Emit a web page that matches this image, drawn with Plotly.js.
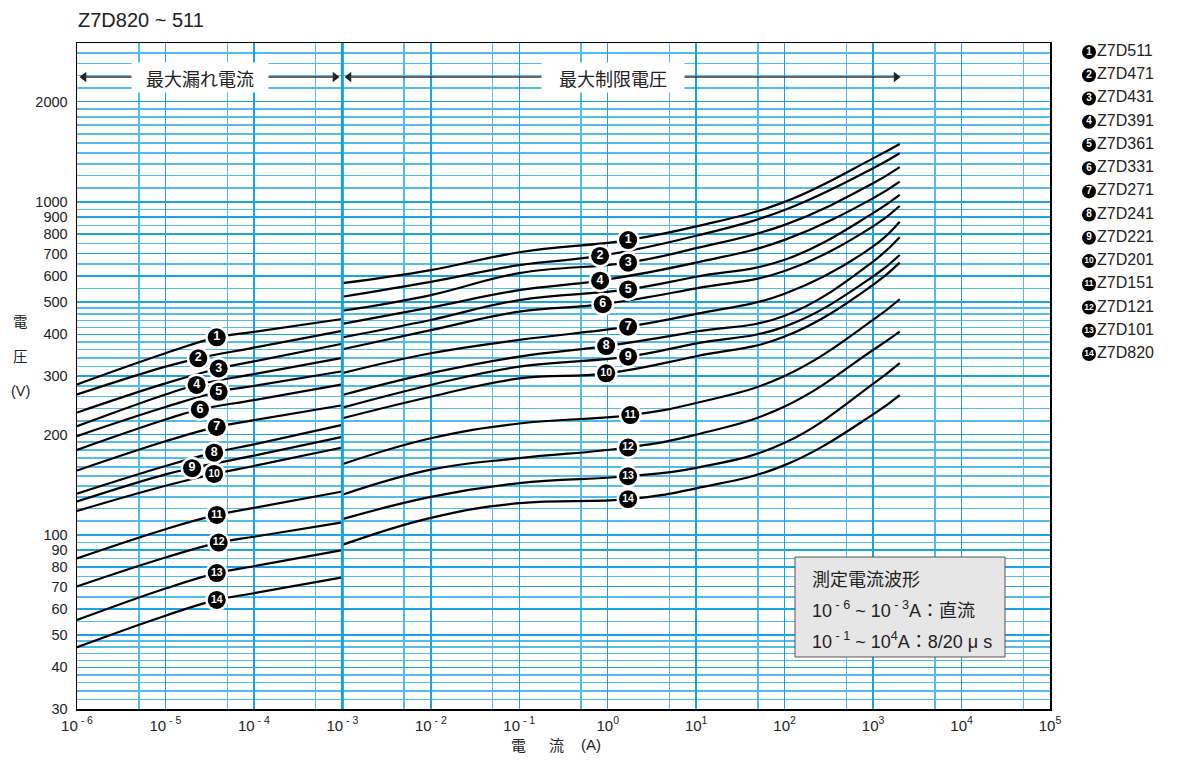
<!DOCTYPE html>
<html>
<head>
<meta charset="utf-8">
<script src="https://cdn.plot.ly/plotly-3.0.1.min.js"></script>
<style>html,body{margin:0;padding:0;background:#fff;}#chart{width:1182px;height:767px;}</style>
</head>
<body>
<div id="chart"></div>
<script>
// ---------- data ----------
const models = ['Z7D511','Z7D471','Z7D431','Z7D391','Z7D361','Z7D331','Z7D271','Z7D241','Z7D221','Z7D201','Z7D151','Z7D121','Z7D101','Z7D820'];
const labelNums = ['1','2','3','4','5','6','7','8','9','10','11','12','13','14'];

// leakage part (10^-6 .. 10^-3 A)
const leftI = [1e-6, 1e-5, 1e-4, 1e-3];
const leftV = [
  [283, 351, 407, 445],
  [264, 320, 365, 410],
  [233, 285, 332, 375],
  [212, 264, 304, 340],
  [198, 242, 280, 310],
  [180, 222, 254, 283],
  [156, 191, 221, 245],
  [133, 161, 187, 214],
  [126, 152, 173, 197],
  [118, 140.5, 161, 183],
  [85, 104, 120.5, 135],
  [70, 85.5, 98.7, 109],
  [55.5, 69, 80.5, 90],
  [46, 57.2, 66.8, 74.5]
];
const leftLabelI = [3.8e-5, 2.35e-5, 4.0e-5, 2.25e-5, 4.0e-5, 2.45e-5, 3.8e-5, 3.55e-5, 2.0e-5, 3.55e-5, 3.8e-5, 4.0e-5, 3.8e-5, 3.8e-5];
const leftLabelV = [392, 339, 316, 282, 269, 238, 211, 176.6, 158.6, 152.4, 114.8, 94.8, 76.8, 63.8];

// clamping part (10^-3 .. 2x10^3 A)
const rightI = [1e-3, 1e-2, 1e-1, 1e1, 1e2, 1e3, 2e3];
const rightV = [
  [570, 624, 706, 844, 1000, 1351, 1492],
  [519, 575, 646, 791, 946, 1262, 1400],
  [471, 525, 611, 726, 853, 1137, 1271],
  [430, 482, 543, 657, 769, 1025, 1150],
  [392, 442, 507, 596, 670, 925, 1049],
  [361, 412, 468, 550, 620, 844, 972],
  [306, 351, 385, 461, 530, 735, 872],
  [263, 306, 343, 408, 455, 662, 783],
  [241, 282, 320, 376, 422, 597, 693],
  [224, 260, 295, 344, 394, 563, 657],
  [163, 195, 216, 249, 300, 442, 510],
  [132, 157, 170, 200, 243, 359, 408],
  [111.5, 130, 143, 159, 189, 284, 328],
  [93.3, 112.5, 124.5, 138, 162, 230, 263]
];
const rightLabelI = [1.7, 0.82, 1.7, 0.82, 1.7, 0.88, 1.7, 0.96, 1.7, 0.96, 1.8, 1.7, 1.7, 1.7];
const rightLabelV = [768, 688, 657, 580, 546, 493, 422, 369, 343, 305.5, 229, 183, 150, 128];

// axes ticks / grid
const xTickVals = [1e-6,1e-5,1e-4,1e-3,1e-2,1e-1,1e0,1e1,1e2,1e3,1e4,1e5];
const xTickText = ['10<sup> - 6</sup>','10<sup> - 5</sup>','10<sup> - 4</sup>','10<sup> - 3</sup>','10<sup> - 2</sup>','10<sup> - 1</sup>','10<sup>0</sup>','10<sup>1</sup>','10<sup>2</sup>','10<sup>3</sup>','10<sup>4</sup>','10<sup>5</sup>'];
const xMinorVals = [5e-6,5e-5,5e-4,5e-3,5e-2,5e-1,5e0,5e1,5e2,5e3,5e4];
const yTickVals = [30,40,50,60,70,80,90,100,200,300,400,500,600,700,800,900,1000,2000];
const yMinorVals = [32,34,36,38,42,44,46,48,55,65,75,85,95,110,120,130,140,150,160,170,180,190,
  220,240,260,280,320,340,360,380,420,440,460,480,550,650,750,850,950,
  1100,1200,1300,1400,1500,1600,1700,1800,1900,2200,2400,2600,2800];

// ---------- build ----------
const FONT = 'Liberation Sans, Arial, Noto Sans CJK JP, sans-serif';
const CJK = 'Noto Sans CJK JP, Liberation Sans, sans-serif';
const gridMajor = '#19a5df';
const gridMinor = '#52bcea';

const W = 1105; // paper width in px (77..1182)
const px2paperX = px => (px - 77) / W;
const px2paperY = py => (709 - py) / 666;
const px2logX = px => (px - 77) / 88.45 - 6;
const px2valX = px => Math.pow(10, px2logX(px));
const px2valY = py => Math.pow(10, Math.log10(30) + (709 - py) / 333);

function merge(xs, ys, lx, ly) {
  const pts = xs.map((x, i) => [x, ys[i]]);
  pts.push([lx, ly]);
  pts.sort((a, b) => a[0] - b[0]);
  return {x: pts.map(p => p[0]), y: pts.map(p => p[1])};
}

const traces = [];
for (let k = 0; k < models.length; k++) {
  const L = merge(leftI, leftV[k], leftLabelI[k], leftLabelV[k]);
  const R = merge(rightI, rightV[k], rightLabelI[k], rightLabelV[k]);
  [L, R].forEach(seg => traces.push({
    x: seg.x, y: seg.y, type: 'scatter', mode: 'lines',
    line: {color: '#000', width: 2.2, shape: 'spline', smoothing: 1.2},
    hoverinfo: 'skip', name: models[k]
  }));
}

// on-curve number labels
const allLabelI = leftLabelI.concat(rightLabelI);
const allLabelV = leftLabelV.concat(rightLabelV);
const allLabelT = labelNums.concat(labelNums);
traces.push({
  x: allLabelI, y: allLabelV, type: 'scatter', mode: 'markers',
  marker: {color: '#fff', size: 23}, hoverinfo: 'skip'
});
[1, 2].forEach(len => {
  const idx = allLabelT.map((t, i) => i).filter(i => allLabelT[i].length === len);
  traces.push({
    x: idx.map(i => allLabelI[i]), y: idx.map(i => allLabelV[i]),
    type: 'scatter', mode: 'markers+text',
    text: idx.map(i => allLabelT[i]), textposition: 'middle center',
    textfont: {color: '#fff', size: len > 1 ? 10.5 : 12.5, family: 'Liberation Sans, Arial', weight: 'bold'},
    marker: {color: '#000', size: 18}, hoverinfo: 'skip'
  });
});

// top arrows (decoration): arrowheads
const arrowY = px2valY(77);
traces.push({
  x: [px2valX(84), px2valX(335), px2valX(349), px2valX(896)], y: [arrowY, arrowY, arrowY, arrowY],
  type: 'scatter', mode: 'markers',
  marker: {symbol: ['triangle-left', 'triangle-right', 'triangle-left', 'triangle-right'], size: 9, color: '#222'}, hoverinfo: 'skip'
});

// legend (right side)
const legRows = models.map((m, i) => i + 1);
[1, 2].forEach(len => {
  const idx = labelNums.map((t, i) => i).filter(i => labelNums[i].length === len);
  traces.push({
    x: idx.map(() => 9), y: idx.map(i => legRows[i]), xaxis: 'x2', yaxis: 'y2',
    type: 'scatter', mode: 'markers+text', text: idx.map(i => labelNums[i]), textposition: 'middle center',
    textfont: {color: '#fff', size: len > 1 ? 8.5 : 10, family: 'Liberation Sans, Arial', weight: 'bold'},
    marker: {color: '#000', size: 14}, hoverinfo: 'skip'
  });
});
traces.push({
  x: models.map(() => 17), y: legRows, xaxis: 'x2', yaxis: 'y2',
  type: 'scatter', mode: 'text', text: models, textposition: 'middle right',
  textfont: {color: '#222', size: 16, family: FONT}, hoverinfo: 'skip'
});

function txt(text, pxX, pxY, size, family, anchor) {
  return {text: text, xref: 'paper', yref: 'paper', x: px2paperX(pxX), y: px2paperY(pxY),
    xanchor: anchor || 'center', yanchor: 'middle', showarrow: false,
    font: {size: size, family: family, color: '#222'}};
}

const annotations = [
  txt('Z7D820 ~ 511', 76, 20, 20, FONT, 'left'),
  // y title
  txt('電', 20, 320, 14.5, CJK), txt('圧', 20, 355, 14.5, CJK), txt('(V)', 20, 391, 14.5, FONT),
  // x title
  txt('電', 518, 745, 15, CJK), txt('流', 556, 745, 15, CJK), txt('(A)', 591, 745, 15, FONT),
  // info box texts
  txt('測定電流波形', 810, 578, 18, CJK, 'left'),
  txt('10<sup> - 6</sup> ~ 10<sup> - 3</sup>A：直流', 810, 609, 18, FONT, 'left'),
  txt('10<sup> - 1</sup> ~ 10<sup>4</sup>A：8/20 μ s', 810, 640, 18, FONT, 'left')
];
// top region labels (white boxes over the arrow shafts)
const lab1 = txt('最大漏れ電流', 200, 77.5, 18, CJK); lab1.width = 134; lab1.height = 27; lab1.bgcolor = '#fff';
const lab2 = txt('最大制限電圧', 613, 77.5, 18, CJK); lab2.width = 140; lab2.height = 27; lab2.bgcolor = '#fff';
annotations.push(lab1, lab2);

const ay = px2paperY(77);
const shapes = [
  {type: 'line', xref: 'x', x0: 1e-3, x1: 1e-3, yref: 'paper', y0: 0, y1: 1, line: {color: '#12a3df', width: 3}},
  // arrow shafts
  {type: 'line', xref: 'paper', yref: 'paper', x0: px2paperX(84), x1: px2paperX(335), y0: ay, y1: ay, line: {color: '#333', width: 1.5}},
  {type: 'line', xref: 'paper', yref: 'paper', x0: px2paperX(349), x1: px2paperX(896), y0: ay, y1: ay, line: {color: '#333', width: 1.5}},
  // info box
  {type: 'rect', xref: 'paper', yref: 'paper', x0: px2paperX(795), x1: px2paperX(1005), y0: px2paperY(657), y1: px2paperY(557),
    fillcolor: '#e6e6e6', line: {color: '#555', width: 1}}
];

const layout = {
  width: 1182, height: 767,
  margin: {l: 77, r: 0, t: 43, b: 58},
  paper_bgcolor: '#fff', plot_bgcolor: '#fff',
  showlegend: false,
  font: {family: FONT, color: '#222', size: 14},
  xaxis: {
    type: 'log', range: [-6, 5], domain: [0, 973 / W],
    tickmode: 'array', tickvals: xTickVals, ticktext: xTickText, ticks: '',
    tickfont: {size: 15, family: FONT, color: '#222'}, ticklabelstandoff: 2,
    showgrid: true, gridcolor: gridMajor, gridwidth: 1.5,
    minor: {tickmode: 'array', tickvals: xMinorVals, showgrid: true, gridcolor: gridMinor, gridwidth: 1.5, ticks: ''},
    showline: true, linecolor: '#000', linewidth: 1.5, mirror: true, zeroline: false, fixedrange: true
  },
  yaxis: {
    type: 'log', range: [Math.log10(30), Math.log10(3000)],
    tickmode: 'array', tickvals: yTickVals, ticktext: yTickVals.map(String), ticks: '',
    tickfont: {size: 14.5, family: FONT, color: '#222'}, ticklabelstandoff: 5,
    showgrid: true, gridcolor: gridMajor, gridwidth: 1.5,
    minor: {tickmode: 'array', tickvals: yMinorVals, showgrid: true, gridcolor: gridMinor, gridwidth: 1.5, ticks: ''},
    showline: true, linecolor: '#000', linewidth: 1.5, mirror: true, zeroline: false, fixedrange: true
  },
  xaxis2: {domain: [(1080 - 77) / W, 1], range: [0, 102], anchor: 'y2', visible: false, fixedrange: true},
  yaxis2: {domain: [0, 1], range: [29.28, 0.613], anchor: 'x2', visible: false, fixedrange: true},
  annotations: annotations,
  shapes: shapes
};

Plotly.newPlot('chart', traces, layout, {staticPlot: true, displayModeBar: false});
</script>
</body>
</html>
